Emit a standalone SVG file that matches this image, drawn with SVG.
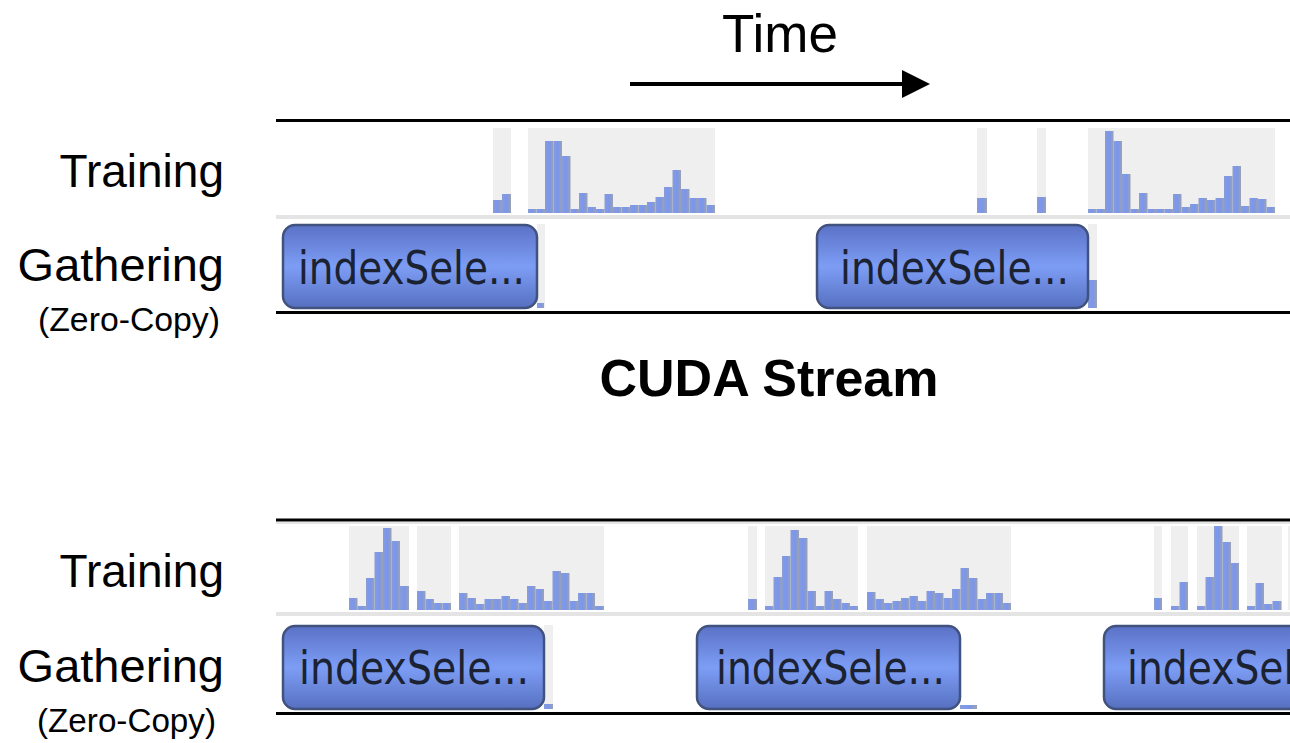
<svg xmlns="http://www.w3.org/2000/svg" width="1290" height="743" viewBox="0 0 1290 743">
<defs>
<linearGradient id="barG" x1="0" y1="0" x2="1" y2="0">
<stop offset="0" stop-color="#8d9dcc"/>
<stop offset="0.3" stop-color="#7b98f2"/>
<stop offset="0.6" stop-color="#7f97e0"/>
<stop offset="1" stop-color="#9ba2b4"/>
</linearGradient>
<linearGradient id="boxG" x1="0" y1="0" x2="0" y2="1">
<stop offset="0" stop-color="#5a72c6"/>
<stop offset="0.5" stop-color="#7d9df5"/>
<stop offset="1" stop-color="#5670c0"/>
</linearGradient>
<marker id="arrow" markerWidth="8" markerHeight="8" refX="0" refY="3.5" orient="auto" markerUnits="strokeWidth">
<path d="M0,0 L7,3.5 L0,7 z" fill="#000"/>
</marker>
<clipPath id="view"><rect x="0" y="0" width="1290" height="743"/></clipPath>
</defs>
<style>
.lbl{font-family:"Liberation Sans",Arial,sans-serif;fill:#000;}
.big{font-size:46px;text-anchor:end;}
.gat{font-size:47px;text-anchor:end;}
.small{font-size:33px;text-anchor:end;}
.bg{fill:#efefef;}
.bar{fill:url(#barG);}
.box{fill:url(#boxG);stroke:#42527e;stroke-width:2.5;}
.btxt{font-family:"DejaVu Sans",Verdana,sans-serif;font-size:47px;fill:#1b2232;}
.blk{stroke:#000;stroke-width:3;}
.sep{stroke:#e4e4e4;stroke-width:4;}
</style>
<rect width="1290" height="743" fill="#fff"/>

<g id="connectors">
<line x1="630" y1="84" x2="902" y2="84" stroke="#000" stroke-width="4" marker-end="url(#arrow)"/>
</g>

<g id="time-label"><text class="lbl" x="780" y="52" font-size="53" text-anchor="middle">Time</text></g>
<g id="cuda-label"><text class="lbl" x="769" y="396" font-size="52" font-weight="bold" text-anchor="middle">CUDA Stream</text></g>

<g id="top-labels">
<text class="lbl big" x="224" y="187">Training</text>
<text class="lbl gat" x="224" y="281">Gathering</text>
<text class="lbl small" x="220" y="331" textLength="182" lengthAdjust="spacingAndGlyphs">(Zero-Copy)</text>
</g>
<g id="bottom-labels">
<text class="lbl big" x="224" y="587">Training</text>
<text class="lbl gat" x="224" y="682">Gathering</text>
<text class="lbl small" x="216" y="732" textLength="179" lengthAdjust="spacingAndGlyphs">(Zero-Copy)</text>
</g>

<g id="top-lanes">
<line class="blk" x1="276" y1="120.5" x2="1290" y2="120.5"/>
<line class="sep" x1="276" y1="217" x2="1290" y2="217"/>
<line class="blk" x1="276" y1="312.5" x2="1290" y2="312.5"/>
</g>

<g id="top-training">
<rect class="bg" x="493" y="128" width="18" height="85"/>
<rect class="bar" x="493" y="200" width="9" height="13"/>
<rect class="bar" x="502" y="194" width="9" height="19"/>
<rect class="bg" x="528" y="128" width="187" height="85"/>
<g class="bar">
<rect x="528" y="209" width="8.5" height="4"/>
<rect x="536.5" y="209" width="8.5" height="4"/>
<rect x="545" y="141" width="8.5" height="72"/>
<rect x="553.5" y="141" width="8.5" height="72"/>
<rect x="562" y="156" width="8.5" height="57"/>
<rect x="570.5" y="209" width="8.5" height="4"/>
<rect x="579" y="193" width="8.5" height="20"/>
<rect x="587.5" y="207" width="8.5" height="6"/>
<rect x="596" y="209" width="8.5" height="4"/>
<rect x="604.5" y="194" width="8.5" height="19"/>
<rect x="613" y="207" width="8.5" height="6"/>
<rect x="621.5" y="207" width="8.5" height="6"/>
<rect x="630" y="205" width="8.5" height="8"/>
<rect x="638.5" y="205" width="8.5" height="8"/>
<rect x="647" y="202" width="8.5" height="11"/>
<rect x="655.5" y="197" width="8.5" height="16"/>
<rect x="664" y="187" width="8.5" height="26"/>
<rect x="672.5" y="170" width="8.5" height="43"/>
<rect x="681" y="189" width="8.5" height="24"/>
<rect x="689.5" y="198" width="8.5" height="15"/>
<rect x="698" y="198" width="8.5" height="15"/>
<rect x="706.5" y="205" width="8.5" height="8"/>
</g>
<rect class="bg" x="977" y="128" width="10" height="85"/>
<rect class="bar" x="977" y="198" width="10" height="15"/>
<rect class="bg" x="1037" y="128" width="9" height="85"/>
<rect class="bar" x="1037" y="197" width="9" height="16"/>
<rect class="bg" x="1088" y="128" width="187" height="85"/>
<g class="bar">
<rect x="1088" y="209" width="8.5" height="4"/>
<rect x="1096.5" y="209" width="8.5" height="4"/>
<rect x="1105" y="131" width="8.5" height="82"/>
<rect x="1113.5" y="141" width="8.5" height="72"/>
<rect x="1122" y="174" width="8.5" height="39"/>
<rect x="1130.5" y="209" width="8.5" height="4"/>
<rect x="1139" y="193" width="8.5" height="20"/>
<rect x="1147.5" y="209" width="8.5" height="4"/>
<rect x="1156" y="209" width="8.5" height="4"/>
<rect x="1164.5" y="209" width="8.5" height="4"/>
<rect x="1173" y="194" width="8.5" height="19"/>
<rect x="1181.5" y="207" width="8.5" height="6"/>
<rect x="1190" y="204" width="8.5" height="9"/>
<rect x="1198.5" y="198" width="8.5" height="15"/>
<rect x="1207" y="200" width="8.5" height="13"/>
<rect x="1215.5" y="198" width="8.5" height="15"/>
<rect x="1224" y="176" width="8.5" height="37"/>
<rect x="1232.5" y="166" width="8.5" height="47"/>
<rect x="1241" y="206" width="8.5" height="7"/>
<rect x="1249.5" y="198" width="8.5" height="15"/>
<rect x="1258" y="199" width="8.5" height="14"/>
<rect x="1266.5" y="207" width="8.5" height="6"/>
</g>
</g>

<g id="top-gather-1">
<rect class="bg" x="537" y="224" width="8" height="84"/>
<rect class="bar" x="537" y="303" width="7" height="5"/>
<rect class="box" x="283" y="225" width="254" height="83" rx="12"/>
<text class="btxt" x="298" y="284" textLength="227" lengthAdjust="spacingAndGlyphs">indexSele...</text>
</g>
<g id="top-gather-2">
<rect class="bg" x="1088" y="224" width="9" height="84"/>
<rect class="bar" x="1088" y="280" width="9" height="28"/>
<rect class="box" x="817" y="225" width="271" height="83" rx="12"/>
<text class="btxt" x="840" y="284" textLength="229" lengthAdjust="spacingAndGlyphs">indexSele...</text>
</g>

<g id="bottom-lanes">
<line class="blk" x1="276" y1="520" x2="1290" y2="520" stroke-width="4"/>
<line x1="276" y1="523" x2="1290" y2="523" stroke="#dddddd" stroke-width="1.5"/>
<line class="sep" x1="276" y1="614" x2="1290" y2="614"/>
<line class="blk" x1="276" y1="713.5" x2="1290" y2="713.5"/>
</g>

<g id="bottom-training">
<rect class="bg" x="349" y="526" width="60" height="84"/>
<g class="bar">
<rect x="349" y="598" width="8.5" height="12"/>
<rect x="357.5" y="606" width="8.5" height="4"/>
<rect x="366" y="578" width="8.5" height="32"/>
<rect x="374.5" y="552" width="8.5" height="58"/>
<rect x="383" y="528" width="8.5" height="82"/>
<rect x="391.5" y="541" width="8.5" height="69"/>
<rect x="400" y="586" width="9" height="24"/>
</g>
<rect class="bg" x="417" y="526" width="34" height="84"/>
<g class="bar">
<rect x="417" y="591" width="8.5" height="19"/>
<rect x="425.5" y="599" width="8.5" height="11"/>
<rect x="434" y="603" width="8.5" height="7"/>
<rect x="442.5" y="603" width="8.5" height="7"/>
</g>
<rect class="bg" x="459" y="526" width="145" height="84"/>
<g class="bar">
<rect x="459" y="593" width="8.5" height="17"/>
<rect x="467.5" y="598" width="8.5" height="12"/>
<rect x="476" y="604" width="8.5" height="6"/>
<rect x="484.5" y="599" width="8.5" height="11"/>
<rect x="493" y="599" width="8.5" height="11"/>
<rect x="501.5" y="596" width="8.5" height="14"/>
<rect x="510" y="599" width="8.5" height="11"/>
<rect x="518.5" y="603" width="8.5" height="7"/>
<rect x="527" y="586" width="8.5" height="24"/>
<rect x="535.5" y="589" width="8.5" height="21"/>
<rect x="544" y="601" width="8.5" height="9"/>
<rect x="552.5" y="571" width="8.5" height="39"/>
<rect x="561" y="573" width="8.5" height="37"/>
<rect x="569.5" y="601" width="8.5" height="9"/>
<rect x="578" y="593" width="8.5" height="17"/>
<rect x="586.5" y="593" width="8.5" height="17"/>
<rect x="595" y="606" width="9" height="4"/>
</g>
<rect class="bg" x="748" y="526" width="9" height="84"/>
<rect class="bar" x="748" y="599" width="9" height="11"/>
<rect class="bg" x="765" y="526" width="93" height="84"/>
<g class="bar">
<rect x="765" y="606" width="8.5" height="4"/>
<rect x="773.5" y="577" width="8.5" height="33"/>
<rect x="782" y="556" width="8.5" height="54"/>
<rect x="790.5" y="530" width="8.5" height="80"/>
<rect x="799" y="538" width="8.5" height="72"/>
<rect x="807.5" y="591" width="8.5" height="19"/>
<rect x="816" y="606" width="8.5" height="4"/>
<rect x="824.5" y="591" width="8.5" height="19"/>
<rect x="833" y="599" width="8.5" height="11"/>
<rect x="841.5" y="603" width="8.5" height="7"/>
<rect x="850" y="606" width="8" height="4"/>
</g>
<rect class="bg" x="867" y="526" width="144" height="84"/>
<g class="bar">
<rect x="867" y="592" width="8.5" height="18"/>
<rect x="875.5" y="599" width="8.5" height="11"/>
<rect x="884" y="603" width="8.5" height="7"/>
<rect x="892.5" y="601" width="8.5" height="9"/>
<rect x="901" y="598" width="8.5" height="12"/>
<rect x="909.5" y="596" width="8.5" height="14"/>
<rect x="918" y="601" width="8.5" height="9"/>
<rect x="926.5" y="591" width="8.5" height="19"/>
<rect x="935" y="593" width="8.5" height="17"/>
<rect x="943.5" y="598" width="8.5" height="12"/>
<rect x="952" y="589" width="8.5" height="21"/>
<rect x="960.5" y="568" width="8.5" height="42"/>
<rect x="969" y="578" width="8.5" height="32"/>
<rect x="977.5" y="599" width="8.5" height="11"/>
<rect x="986" y="593" width="8.5" height="17"/>
<rect x="994.5" y="593" width="8.5" height="17"/>
<rect x="1003" y="603" width="8" height="7"/>
</g>
<rect class="bg" x="1154" y="526" width="8" height="84"/>
<rect class="bar" x="1154" y="598" width="8" height="12"/>
<rect class="bg" x="1171" y="526" width="17" height="84"/>
<rect class="bar" x="1171" y="606" width="8.5" height="4"/>
<rect class="bar" x="1179.5" y="582" width="8.5" height="28"/>
<rect class="bg" x="1197" y="526" width="42" height="84"/>
<g class="bar">
<rect x="1197" y="606" width="8.5" height="4"/>
<rect x="1205.5" y="577" width="8.5" height="33"/>
<rect x="1214" y="526" width="8.5" height="84"/>
<rect x="1222.5" y="542" width="8.5" height="68"/>
<rect x="1231" y="563" width="8" height="47"/>
</g>
<rect class="bg" x="1247" y="526" width="35" height="84"/>
<g class="bar">
<rect x="1247" y="606" width="8.5" height="4"/>
<rect x="1255.5" y="583" width="8.5" height="27"/>
<rect x="1264" y="604" width="8.5" height="6"/>
<rect x="1272.5" y="601" width="9" height="9"/>
</g>
<rect class="bg" x="1288" y="526" width="2" height="84"/>
</g>

<g id="bottom-gather-1">
<rect class="bg" x="544" y="625" width="9" height="84"/>
<rect class="bar" x="544" y="704" width="9" height="5"/>
<rect class="box" x="283" y="626" width="261" height="83" rx="12"/>
<text class="btxt" x="299" y="684" textLength="230" lengthAdjust="spacingAndGlyphs">indexSele...</text>
</g>
<g id="bottom-gather-2">
<rect class="bar" x="960" y="705" width="17" height="4"/>
<rect class="box" x="697" y="626" width="263" height="83" rx="12"/>
<text class="btxt" x="716" y="684" textLength="229" lengthAdjust="spacingAndGlyphs">indexSele...</text>
</g>
<g id="bottom-gather-3" clip-path="url(#view)">
<rect class="box" x="1104" y="626" width="260" height="83" rx="12"/>
<text class="btxt" x="1127" y="684" textLength="229" lengthAdjust="spacingAndGlyphs">indexSele...</text>
</g>
</svg>
